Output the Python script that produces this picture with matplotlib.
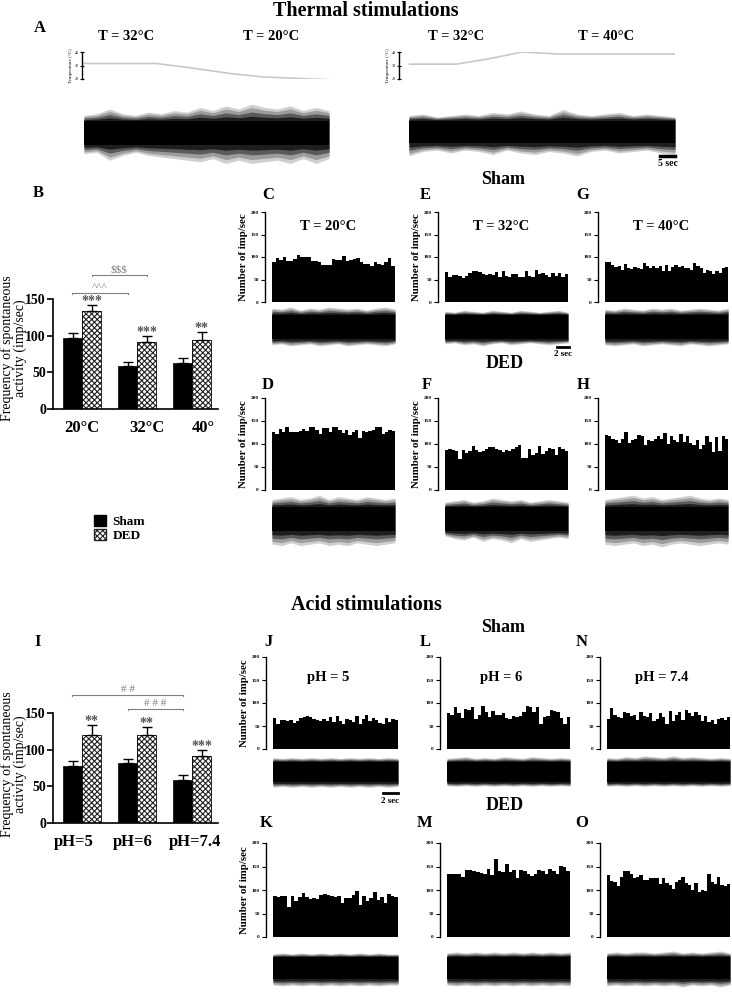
import numpy as np
import matplotlib
matplotlib.use("Agg")
import matplotlib.pyplot as plt
from matplotlib.patches import Patch

plt.rcParams['font.family'] = ['Liberation Serif', 'DejaVu Serif']
plt.rcParams['hatch.linewidth'] = 0.8

# ---------------- data ----------------
# Panel B (thermal)
cats_B = ['20°C', '32°C', '40°']
sham_B = [97, 58, 63]
sham_B_err = [6, 6, 7]
ded_B = [133, 91, 94]
ded_B_err = [9, 8, 11]
sig_B = ['***', '***', '**']

# Panel I (acid)
cats_I = ['pH=5', 'pH=6', 'pH=7.4']
sham_I = [78, 82, 59]
sham_I_err = [7, 5, 6]
ded_I = [120, 120, 92]
ded_I_err = [14, 11, 7]
sig_I = ['**', '**', '***']

# Temperature records (panel A): time (s) and temperature (°C)
tA1_time = [0, 22, 32, 45, 55, 75]
tA1_temp = [31.5, 31.5, 28.5, 24, 21.5, 19.5]
tA2_time = [0, 14, 24, 34, 45, 80]
tA2_temp = [31, 31, 35, 40, 38.5, 38.5]

# Histograms (imp/sec per bin)
hist_C = [90, 97, 93, 100, 92, 92, 95, 105, 100, 100, 100, 92, 92, 90, 82, 82, 82, 95, 93, 93,
          103, 92, 93, 95, 97, 90, 85, 85, 80, 88, 85, 82, 90, 97, 80]
hist_E = [67, 55, 60, 60, 58, 54, 57, 65, 68, 70, 67, 62, 60, 62, 60, 67, 56, 68, 58, 55,
          62, 62, 55, 56, 70, 57, 55, 72, 63, 65, 60, 55, 65, 58, 65, 55, 62]
hist_G = [88, 90, 82, 78, 80, 72, 85, 75, 73, 78, 75, 73, 87, 80, 75, 80, 75, 80, 70, 82,
          68, 78, 82, 78, 80, 75, 75, 72, 87, 80, 75, 65, 72, 68, 62, 70, 65, 75, 78]
hist_D = [125, 122, 133, 125, 137, 125, 125, 127, 128, 132, 128, 137, 137, 130, 122, 135, 135, 125, 137, 137,
          130, 123, 130, 120, 125, 130, 113, 128, 125, 128, 130, 137, 137, 122, 125, 130, 128]
hist_F = [88, 90, 88, 85, 67, 88, 80, 85, 95, 88, 82, 85, 90, 93, 93, 90, 88, 83, 88, 85,
          90, 93, 98, 70, 70, 90, 77, 80, 95, 78, 85, 92, 90, 77, 93, 90, 85]
hist_H = [120, 118, 110, 108, 103, 110, 127, 103, 108, 110, 120, 118, 97, 108, 107, 110, 117, 110, 123, 100,
          118, 108, 105, 122, 105, 118, 102, 97, 108, 90, 97, 118, 105, 83, 115, 85, 117, 110]
hist_J = [68, 55, 63, 62, 60, 62, 57, 60, 67, 70, 72, 70, 65, 63, 60, 65, 60, 70, 58, 72,
          60, 55, 65, 63, 58, 72, 55, 65, 74, 60, 67, 62, 57, 55, 67, 58, 65, 62]
hist_L = [78, 75, 92, 78, 68, 88, 85, 92, 65, 75, 93, 80, 70, 82, 75, 73, 78, 68, 65, 72,
          70, 72, 80, 93, 92, 80, 92, 55, 70, 72, 85, 82, 80, 68, 55, 70]
hist_N = [65, 90, 75, 70, 68, 80, 78, 72, 75, 62, 80, 72, 70, 78, 60, 65, 78, 70, 55, 82,
          60, 75, 80, 62, 85, 78, 72, 80, 75, 60, 72, 58, 62, 55, 65, 68, 62, 70]
hist_K = [88, 85, 88, 87, 63, 88, 77, 85, 93, 85, 80, 83, 80, 90, 92, 90, 88, 85, 88, 73,
          82, 83, 90, 97, 68, 88, 77, 82, 95, 78, 85, 72, 92, 88, 85]
hist_M = [133, 135, 135, 133, 127, 142, 143, 140, 138, 137, 135, 145, 132, 165, 140, 138, 155, 138, 143, 125,
          143, 140, 133, 130, 133, 142, 140, 133, 145, 140, 135, 152, 150, 140]
hist_O = [132, 120, 118, 108, 127, 140, 140, 135, 125, 128, 132, 122, 122, 125, 125, 125, 112, 125, 115, 110,
          102, 118, 122, 127, 115, 110, 100, 115, 95, 100, 97, 135, 117, 112, 127, 110, 108, 113]

# Raw-trace envelopes (relative amplitude of the outermost spikes, upward / downward)
trA1_up = [0.55, 0.6, 0.75, 0.6, 0.55, 0.65, 0.6, 0.7, 0.65, 0.8, 0.7, 0.85, 0.75, 0.9, 0.8, 0.75, 0.85, 0.7, 0.8, 0.7]
trA1_lo = [0.65, 0.6, 0.85, 0.7, 0.6, 0.7, 0.75, 0.8, 0.85, 0.9, 0.8, 0.95, 0.85, 0.95, 0.9, 0.85, 0.95, 0.8, 0.95, 0.8]
trA2_up = [0.55, 0.6, 0.5, 0.55, 0.6, 0.55, 0.65, 0.6, 0.7, 0.6, 0.55, 0.75, 0.6, 0.55, 0.6, 0.65, 0.55, 0.6, 0.55, 0.5]
trA2_lo = [0.8, 0.65, 0.6, 0.7, 0.6, 0.65, 0.75, 0.6, 0.7, 0.75, 0.65, 0.7, 0.8, 0.65, 0.6, 0.7, 0.65, 0.6, 0.7, 0.75]
trC_up = [0.9, 0.85, 0.95, 0.8, 0.9, 0.85, 0.95, 0.9, 0.85, 0.9, 0.8, 0.9, 0.95, 0.85]
trC_lo = [0.85, 0.8, 0.9, 0.85, 0.8, 0.9, 0.85, 0.8, 0.9, 0.85, 0.8, 0.85, 0.9, 0.8]
trE_up = [0.75, 0.7, 0.8, 0.75, 0.7, 0.8, 0.75, 0.7, 0.8, 0.75, 0.7, 0.75, 0.8, 0.7]
trE_lo = [0.8, 0.75, 0.85, 0.8, 0.9, 0.8, 0.75, 0.85, 0.8, 0.75, 0.8, 0.85, 0.8, 0.75]
trG_up = [0.85, 0.8, 0.9, 0.85, 0.8, 0.9, 0.85, 0.9, 0.8, 0.85, 0.9, 0.85, 0.8, 0.9]
trG_lo = [0.85, 0.9, 0.85, 0.8, 0.9, 0.85, 0.8, 0.85, 0.9, 0.8, 0.85, 0.9, 0.85, 0.8]
trD_up = [0.7, 0.75, 0.8, 0.7, 0.75, 0.85, 0.7, 0.8, 0.75, 0.7, 0.8, 0.75, 0.7, 0.75]
trD_lo = [0.9, 0.95, 0.85, 0.95, 0.9, 0.85, 0.95, 0.9, 0.95, 0.85, 0.9, 0.95, 0.9, 0.85]
trF_up = [0.6, 0.65, 0.7, 0.6, 0.65, 0.75, 0.7, 0.65, 0.7, 0.6, 0.65, 0.7, 0.65, 0.6]
trF_lo = [0.6, 0.7, 0.75, 0.65, 0.8, 0.7, 0.75, 0.85, 0.7, 0.8, 0.75, 0.7, 0.65, 0.7]
trH_up = [0.7, 0.75, 0.8, 0.85, 0.75, 0.8, 0.7, 0.75, 0.8, 0.85, 0.75, 0.7, 0.75, 0.7]
trH_lo = [0.9, 0.95, 0.9, 0.85, 0.95, 0.9, 1.0, 0.9, 0.85, 0.9, 0.95, 0.9, 0.85, 0.9]
trJ_up = [0.85, 0.8, 0.85, 0.8, 0.85, 0.8, 0.85, 0.8, 0.85, 0.8, 0.85, 0.8, 0.85, 0.8]
trJ_lo = [0.9, 0.85, 0.9, 0.85, 0.9, 0.85, 0.9, 0.85, 0.9, 0.85, 0.9, 0.85, 0.9, 0.85]
trL_up = [0.8, 0.85, 0.9, 0.8, 0.85, 0.8, 0.9, 0.85, 0.8, 0.9, 0.85, 0.8, 0.85, 0.8]
trL_lo = [0.8, 0.85, 0.8, 0.85, 0.8, 0.85, 0.8, 0.85, 0.8, 0.85, 0.8, 0.85, 0.8, 0.85]
trN_up = [0.85, 0.8, 0.9, 0.85, 0.95, 0.9, 0.85, 0.95, 0.85, 0.9, 0.85, 0.8, 0.85, 0.8]
trN_lo = [0.85, 0.8, 0.85, 0.8, 0.85, 0.8, 0.85, 0.8, 0.85, 0.8, 0.85, 0.8, 0.85, 0.8]
trK_up = [0.7, 0.75, 0.7, 0.75, 0.7, 0.75, 0.7, 0.75, 0.7, 0.75, 0.7, 0.75, 0.7, 0.7]
trK_lo = [0.85, 0.9, 0.85, 0.9, 0.85, 0.9, 0.85, 0.9, 0.85, 0.9, 0.85, 0.9, 0.85, 0.85]
trM_up = [0.75, 0.8, 0.75, 0.8, 0.75, 0.8, 0.75, 0.8, 0.75, 0.8, 0.75, 0.8, 0.75, 0.8]
trM_lo = [0.85, 0.9, 0.85, 0.9, 0.85, 0.9, 0.85, 0.9, 0.85, 0.9, 0.85, 0.9, 0.85, 0.9]
trO_up = [0.75, 0.8, 0.75, 0.8, 0.8, 0.75, 0.8, 0.85, 0.75, 0.8, 0.75, 0.8, 0.85, 0.75]
trO_lo = [0.9, 0.85, 0.9, 0.85, 0.9, 0.85, 0.9, 0.85, 0.95, 0.85, 0.9, 0.85, 0.95, 0.85]

# ---------------- layout helpers ----------------
W, H = 732, 992
fig = plt.figure(figsize=(W / 100, H / 100), dpi=100)


def px_axes(x0, y_top, x1, y_bot):
    return fig.add_axes([x0 / W, 1 - y_bot / H, (x1 - x0) / W, (y_bot - y_top) / H])


def ftext(x, y, s, **kw):
    kw.setdefault('ha', 'center')
    kw.setdefault('va', 'center')
    fig.text(x / W, 1 - y / H, s, **kw)


def draw_trace(x0, x1, yc, half, up, lo, core):
    ax = px_axes(x0, yc - half, x1, yc + half)
    n = len(up)
    xs = np.arange(n)
    ax.fill_between(xs, [-v for v in lo], up, color='#cfcfcf', lw=0)
    for frac, col in [(0.8, '#9c9c9c'), (0.55, '#5a5a5a'), (0.3, '#1e1e1e')]:
        m_up = [core + (v - core) * frac for v in up]
        m_lo = [-(core + (v - core) * frac) for v in lo]
        ax.fill_between(xs, m_lo, m_up, color=col, lw=0)
    ax.axhspan(-core, core, color='black', lw=0)
    ax.set_xlim(0, n - 1)
    ax.set_ylim(-1, 1)
    ax.axis('off')
    return ax


def draw_hist(x0, x1, y200, y0, vals, ylabel=True):
    ax = px_axes(x0, y200, x1, y0)
    n = len(vals)
    ax.stairs(vals, np.arange(n + 1), fill=True, color='black', lw=0)
    ax.set_xlim(0, n)
    ax.set_ylim(0, 200)
    for s in ['top', 'right', 'bottom']:
        ax.spines[s].set_visible(False)
    ax.spines['left'].set_position(('outward', 5))
    ax.spines['left'].set_linewidth(1.0)
    ax.set_xticks([])
    ax.set_yticks([0, 50, 100, 150, 200])
    ax.tick_params(axis='y', labelsize=3.8, length=3, width=0.8, pad=1.5)
    for t in ax.get_yticklabels():
        t.set_fontweight('bold')
    if ylabel:
        ax.set_ylabel('Number of imp/sec', fontsize=7.8, fontweight='bold', labelpad=2)
    return ax


def draw_bars(y150, y0, cats, label_pos, sham, sham_err, ded, ded_err, sig, brackets):
    ax = px_axes(53, y150, 218, y0)
    centers = np.arange(len(cats))
    bw = 0.345
    xs = centers - bw / 2
    xd = centers + bw / 2
    ax.bar(xs, sham, width=bw, color='black', edgecolor='black', lw=0.5)
    ax.bar(xd, ded, width=bw, color='white', edgecolor='#222222', hatch='xxxxxx', lw=0)
    ax.bar(xd, ded, width=bw, color='none', edgecolor='black', lw=0.6)
    ax.errorbar(xs, sham, yerr=[[0] * len(sham), sham_err], fmt='none', ecolor='black',
                elinewidth=1, capsize=3.5, capthick=1)
    ax.errorbar(xd, ded, yerr=[[0] * len(ded), ded_err], fmt='none', ecolor='black',
                elinewidth=1, capsize=3.5, capthick=1)
    for x, v, e, s in zip(xd, ded, ded_err, sig):
        ax.text(x, v + e - 4, s, ha='center', va='bottom', fontsize=10, color='#555555',
                fontweight='bold', clip_on=False)
    ax.set_xlim(-0.527, 2.47)
    ax.set_ylim(0, 150)
    ax.set_yticks([0, 50, 100, 150])
    ax.set_xticks(label_pos)
    ax.set_xticklabels(cats)
    ax.tick_params(axis='y', labelsize=10, length=4, width=1.2, pad=1)
    ax.tick_params(axis='x', labelsize=12, length=0, pad=8)
    for t in ax.get_yticklabels() + ax.get_xticklabels():
        t.set_fontweight('bold')
    for s in ['top', 'right']:
        ax.spines[s].set_visible(False)
    ax.spines['left'].set_linewidth(1.2)
    ax.spines['bottom'].set_linewidth(1.2)
    for (xa, xb, yv, lab) in brackets:
        ax.plot([xa, xb], [yv, yv], color='#808080', lw=0.8, clip_on=False)
        ax.plot([xa, xa], [yv, yv - 1.5], color='#808080', lw=0.8, clip_on=False)
        ax.plot([xb, xb], [yv, yv - 1.5], color='#808080', lw=0.8, clip_on=False)
        ax.text((xa + xb) / 2, yv + 1, lab, ha='center', va='bottom', fontsize=8,
                color='#808080', clip_on=False)
    return ax


bold = dict(fontweight='bold')

# ---------------- titles ----------------
ftext(366, 11, 'Thermal stimulations', fontsize=14.5, **bold)
ftext(366, 605, 'Acid stimulations', fontsize=14.5, **bold)
ftext(503, 180, 'Sham', fontsize=13, **bold)
ftext(505, 364, 'DED', fontsize=13, **bold)
ftext(503, 627, 'Sham', fontsize=13, **bold)
ftext(505, 806, 'DED', fontsize=13, **bold)

# panel letters
for lab, x, y in [('A', 40, 28), ('B', 38, 193), ('I', 38, 642),
                  ('C', 268, 195), ('E', 425, 195), ('G', 583, 195),
                  ('D', 268, 385), ('F', 427, 385), ('H', 583, 385),
                  ('J', 268, 642), ('L', 425, 642), ('N', 582, 642),
                  ('K', 266, 823), ('M', 425, 823), ('O', 582, 823)]:
    ftext(x, y, lab, fontsize=12, **bold)

# ---------------- Panel A ----------------
for (x0, x1, tt, tv, lab1, lab2, lx1, lx2) in [
        (82, 329, tA1_time, tA1_temp, 'T = 32°C', 'T = 20°C', 126, 271),
        (399, 675, tA2_time, tA2_temp, 'T = 32°C', 'T = 40°C', 456, 606)]:
    axT = px_axes(x0, 52, x1, 79)
    axT.plot(tt, tv, color='#c8c8c8', lw=1.2)
    axT.set_xlim(-0.6 if x0 < 200 else -3.2, tt[-1])
    axT.set_ylim(20, 40)
    axT.set_yticks([20, 30, 40])
    axT.set_xticks([])
    axT.tick_params(axis='y', labelsize=3, length=3, width=0.8, pad=1, direction='inout')
    for s in ['top', 'right', 'bottom']:
        axT.spines[s].set_visible(False)
    axT.spines['left'].set_linewidth(1.0)
    axT.set_ylabel('Temperature (°C)', fontsize=3.5, labelpad=1)
    ftext(lx1, 37, lab1, fontsize=10.5, **bold)
    ftext(lx2, 37, lab2, fontsize=10.5, **bold)

draw_trace(84, 329, 133, 32, trA1_up, trA1_lo, 0.36)
draw_trace(409, 675, 132, 30, trA2_up, trA2_lo, 0.38)
# 5 sec scale bar
fig.add_artist(plt.Line2D([660 / W, 675 / W], [1 - 156 / H, 1 - 156 / H], color='black', lw=2.5))
ftext(668, 164, '5 sec', fontsize=7, **bold)

# ---------------- Panel B / I ----------------
draw_bars(299, 409, cats_B, [0.0, 1.18, 2.2], sham_B, sham_B_err, ded_B, ded_B_err, sig_B,
          [(-0.173, 0.827, 158, '^^^'), (0.173, 1.173, 183, '$$$')])
ftext(14, 348, 'Frequency of spontaneous\nactivity (imp/sec)', fontsize=10, rotation=90,
      linespacing=0.95)
draw_bars(713, 823, cats_I, [-0.15, 0.93, 2.05], sham_I, sham_I_err, ded_I, ded_I_err, sig_I,
          [(-0.173, 1.827, 175, '# #'), (0.827, 1.827, 156, '# # #')])
ftext(14, 764, 'Frequency of spontaneous\nactivity (imp/sec)', fontsize=10, rotation=90,
      linespacing=0.95)

fig.legend([Patch(facecolor='black', edgecolor='black'),
            Patch(facecolor='white', edgecolor='#222222', hatch='xxxxxx')],
           ['Sham', 'DED'], loc='upper left', bbox_to_anchor=(94 / W, 1 - 515 / H),
           frameon=False, prop=dict(family='Liberation Serif', weight='bold', size=9.5),
           handlelength=0.9, handleheight=0.9, labelspacing=0.05, handletextpad=0.5,
           borderpad=0, borderaxespad=0)

# ---------------- Histograms + traces ----------------
cols_th = [(272, 395), (445, 568), (605, 728)]
cols_ac = [(273, 398), (447, 570), (607, 730)]

titles_th = ['T = 20°C', 'T = 32°C', 'T = 40°C']
titles_ac = ['pH = 5', 'pH = 6', 'pH = 7.4']

for (x0, x1), hv, yl, tl, up, lo in zip(cols_th, [hist_C, hist_E, hist_G], [True, True, False],
                                        titles_th, [trC_up, trE_up, trG_up], [trC_lo, trE_lo, trG_lo]):
    draw_hist(x0, x1, 212, 302, hv, yl)
    ftext((x0 + x1) / 2 - 5, 226, tl, fontsize=10.5, **bold)
    draw_trace(x0, x1, 327, 21, up, lo, 0.58)

for (x0, x1), hv, yl, up, lo in zip(cols_th, [hist_D, hist_F, hist_H], [True, True, False],
                                    [trD_up, trF_up, trH_up], [trD_lo, trF_lo, trH_lo]):
    draw_hist(x0, x1, 398, 490, hv, yl)
    draw_trace(x0, x1, 519, 28, up, lo, 0.42)

for (x0, x1), hv, yl, tl, up, lo in zip(cols_ac, [hist_J, hist_L, hist_N], [True, False, False],
                                        titles_ac, [trJ_up, trL_up, trN_up], [trJ_lo, trL_lo, trN_lo]):
    draw_hist(x0, x1, 657, 749, hv, yl)
    ftext((x0 + x1) / 2 - 7, 677, tl, fontsize=10.5, **bold)
    draw_trace(x0, x1, 772, 17, up, lo, 0.6)

for (x0, x1), hv, yl, up, lo in zip(cols_ac, [hist_K, hist_M, hist_O], [True, False, False],
                                    [trK_up, trM_up, trO_up], [trK_lo, trM_lo, trO_lo]):
    draw_hist(x0, x1, 843, 937, hv, yl)
    draw_trace(x0, x1, 968, 20, up, lo, 0.55)

# 2 sec scale bars
fig.add_artist(plt.Line2D([557 / W, 569 / W], [1 - 347 / H, 1 - 347 / H], color='black', lw=2))
ftext(563, 354, '2 sec', fontsize=6.5, **bold)
fig.add_artist(plt.Line2D([383 / W, 398 / W], [1 - 793 / H, 1 - 793 / H], color='black', lw=2))
ftext(390, 801, '2 sec', fontsize=6.5, **bold)

fig.savefig('out.png', dpi=100)
